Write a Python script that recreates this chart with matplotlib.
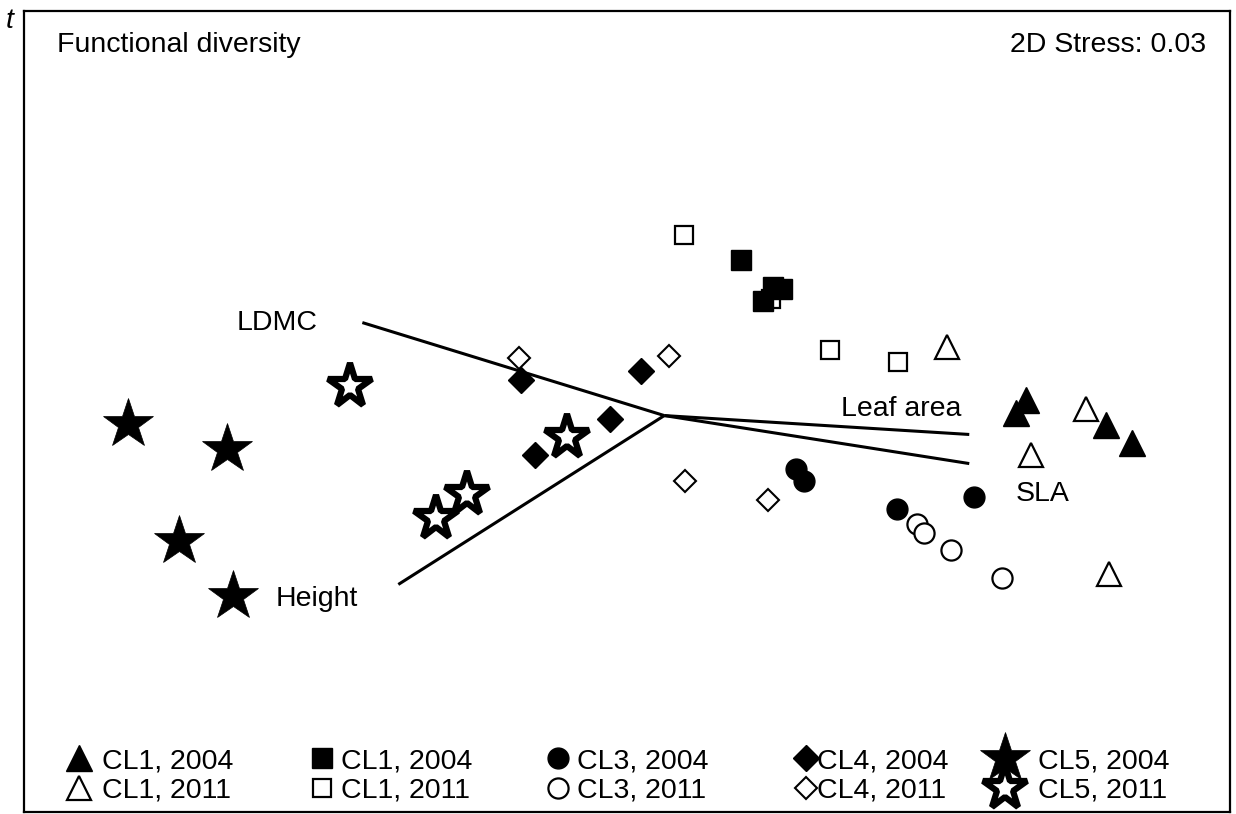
import matplotlib.pyplot as plt
from matplotlib.legend import Legend

plt.rcParams['font.family'] = ['Liberation Sans', 'DejaVu Sans']

# NMDS scores of functional traits, by cluster and year
tri04_x = [1.207, 1.173, 1.473, 1.560]
tri04_y = [0.053, 0.007, -0.030, -0.093]
tri11_x = [0.943, 1.407, 1.223, 1.483]
tri11_y = [0.227, 0.023, -0.130, -0.527]

sq04_x = [0.257, 0.363, 0.393, 0.330]
sq04_y = [0.520, 0.430, 0.423, 0.383]
sq11_x = [0.067, 0.357, 0.553, 0.780]
sq11_y = [0.603, 0.390, 0.220, 0.177]

ci04_x = [0.440, 0.467, 0.777, 1.033]
ci04_y = [-0.177, -0.217, -0.310, -0.270]
ci11_x = [0.843, 0.867, 0.957, 1.127]
ci11_y = [-0.360, -0.393, -0.447, -0.543]

di04_x = [-0.477, -0.077, -0.180, -0.430]
di04_y = [0.120, 0.150, -0.010, -0.130]
di11_x = [-0.483, 0.017, 0.070, 0.347]
di11_y = [0.193, 0.197, -0.217, -0.280]

st04_x = [-1.790, -1.460, -1.617, -1.440]
st04_y = [-0.027, -0.110, -0.417, -0.600]
st11_x = [-1.047, -0.323, -0.657, -0.760]
st11_y = [0.100, -0.073, -0.260, -0.340]

# trait vectors
traits = ['LDMC', 'Height', 'Leaf area', 'SLA']
trait_x = [-1.007, -0.887, 1.017, 1.017]
trait_y = [0.310, -0.563, -0.063, -0.160]

legend_labels = ['CL1, 2004', 'CL1, 2011', 'CL1, 2004', 'CL1, 2011',
                 'CL3, 2004', 'CL3, 2011', 'CL4, 2004', 'CL4, 2011',
                 'CL5, 2004', 'CL5, 2011']

FS = 20.5

fig = plt.figure(figsize=(12.36, 8.14), dpi=100)
ax = fig.add_axes([0.0195, 0.003, 0.976, 0.984])
ax.set_xlim(-2.135, 1.888)
ax.set_ylim(-1.32, 1.35)
ax.set_xticks([])
ax.set_yticks([])
for sp in ax.spines.values():
    sp.set_linewidth(1.6)

for name, vx, vy in zip(traits, trait_x, trait_y):
    ax.plot([0, vx], [0, vy], color='black', lw=2.2, zorder=1,
            solid_capstyle='butt')

label_style = {
    'LDMC': dict(xytext=(-45, 0), ha='right', va='center'),
    'Height': dict(xytext=(-123, -15), ha='left', va='center'),
    'Leaf area': dict(xytext=(-8, 25), ha='right', va='center'),
    'SLA': dict(xytext=(73, -30), ha='center', va='center'),
}
for name, vx, vy in zip(traits, trait_x, trait_y):
    ax.annotate(name, (vx, vy), textcoords='offset pixels', fontsize=FS,
                **label_style[name])

groups = [
    (tri04_x, tri04_y, dict(marker='^', ms=19, mfc='black', mec='black', mew=1), 3),
    (tri11_x, tri11_y, dict(marker='^', ms=17, mfc='white', mec='black', mew=1.6), 2),
    (sq04_x, sq04_y, dict(marker='s', ms=15, mfc='black', mec='black', mew=1), 3),
    (sq11_x, sq11_y, dict(marker='s', ms=12.5, mfc='white', mec='black', mew=1.6), 2),
    (ci04_x, ci04_y, dict(marker='o', ms=15, mfc='black', mec='black', mew=1), 3),
    (ci11_x, ci11_y, dict(marker='o', ms=14.5, mfc='white', mec='black', mew=1.6), 2),
    (di04_x, di04_y, dict(marker='D', ms=13, mfc='black', mec='black', mew=1), 3),
    (di11_x, di11_y, dict(marker='D', ms=11.5, mfc='white', mec='black', mew=1.5), 2),
    (st04_x, st04_y, dict(marker='*', ms=38, mfc='black', mec='black', mew=0.5), 3),
    (st11_x, st11_y, dict(marker='*', ms=33, mfc='white', mec='black', mew=4.5), 3),
]

handles = []
for (gx, gy, style, z), lab in zip(groups, legend_labels):
    h, = ax.plot(gx, gy, ls='none', zorder=z, label=lab, **style)
    handles.append(h)

# one small legend per column so each marker/text gap can differ
ax_left_px = 0.0195 * 1236
ax_w_px = 0.976 * 1236
col_marker_px = [79, 322, 558, 806, 1005]
col_pad = [0.3, 0.17, 0.17, -0.1, 0.66]
em = FS / 72 * 100
for i, (cx, pad) in enumerate(zip(col_marker_px, col_pad)):
    x0 = (cx - em / 2 - ax_left_px) / ax_w_px
    leg = Legend(ax, handles[2 * i:2 * i + 2], legend_labels[2 * i:2 * i + 2],
                 loc='lower left', bbox_to_anchor=(x0, 0.01),
                 frameon=False, fontsize=FS, handlelength=1.0,
                 handletextpad=pad, labelspacing=0.12,
                 borderpad=0, borderaxespad=0)
    ax.add_artist(leg)

ax.text(0.0274, 0.9487, 'Functional diversity', transform=ax.transAxes,
        fontsize=FS, ha='left', va='baseline')
ax.text(0.980, 0.9487, '2D Stress: 0.03', transform=ax.transAxes,
        fontsize=FS, ha='right', va='baseline')
fig.text(6 / 1236, 1 - 28 / 814, 't', fontsize=FS, style='italic',
         ha='left', va='baseline')

fig.savefig('out.png', dpi=100)
